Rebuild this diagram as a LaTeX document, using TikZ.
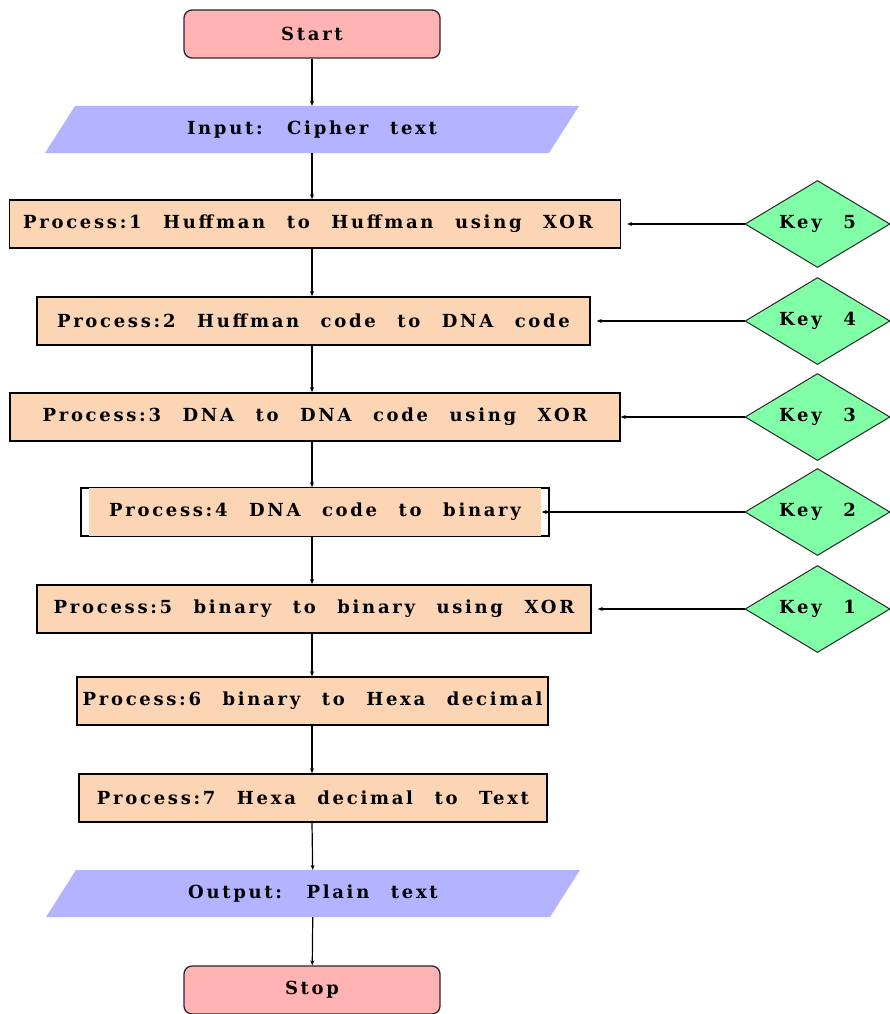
\documentclass[tikz,border=0pt]{standalone}
\usepackage{fontspec}
\setmainfont{DejaVu Serif}
\newfontfamily\spaced[LetterSpace=15,WordSpace=2.4]{DejaVu Serif}
\usetikzlibrary{shapes.geometric,arrows.meta,calc}
\definecolor{peach}{RGB}{252,213,181}
\definecolor{pinkfill}{RGB}{255,179,179}
\definecolor{lav}{RGB}{179,179,255}
\definecolor{keygreen}{RGB}{128,255,166}
\definecolor{edge}{RGB}{40,40,40}
\begin{document}
\begin{tikzpicture}[x=1pt,y=-1pt,
  every node/.style={font=\fontsize{18}{21}\selectfont\spaced\bfseries},
  term/.style={draw=edge, line width=1.3pt, fill=pinkfill, rounded corners=8pt,
    minimum width=256pt, minimum height=48pt, inner sep=0pt},
  io/.style={minimum width=534pt, minimum height=47pt, inner sep=0pt,
    path picture={\fill[lav] (path picture bounding box.south west)
      -- ($(path picture bounding box.north west)+(30,0)$)
      -- (path picture bounding box.north east)
      -- ($(path picture bounding box.south east)+(-30,0)$) -- cycle;}},
  proc/.style={draw=black, line width=1.5pt, fill=peach, minimum height=48pt, inner sep=0pt},
  key/.style={diamond, aspect=1.67, draw=edge, line width=1pt, fill=keygreen, minimum width=145pt,
    minimum height=87pt, inner sep=0pt},
  arr/.style={-{Stealth[length=5pt,width=4pt]}, line width=1.2pt, black}
]
\useasboundingbox (0,0) rectangle (890,1014);

\node[term] (start) at (312,34) {Start};
\node[io] (in) at (312,129.5) {Input: Cipher text};
\node[proc, minimum width=611pt] (p1) at (315,224) {\hspace*{-14pt}Process:1 Huffman to Huffman using XOR};
\node[proc, minimum width=553pt] (p2) at (313.5,321) {Process:2 Huffman code to DNA code};
\node[proc, minimum width=610pt] (p3) at (315,417) {Process:3 DNA to DNA code using XOR};
\node[proc, fill=white, minimum width=468pt] (p4) at (315,512) {};
\fill[peach] ($(p4.south west)+(9,-1)$) rectangle ($(p4.north east)+(-9,1)$);
\node at (p4) {Process:4 DNA code to binary};
\node[proc, minimum width=554pt] (p5) at (314,609) {Process:5 binary to binary using XOR};
\node[proc, minimum width=471pt] (p6) at (312.5,701) {Process:6 binary to Hexa decimal};
\node[proc, minimum width=468pt] (p7) at (313,798) {Process:7 Hexa decimal to Text};
\node[io] (out) at (313,893.5) {Output: Plain text};
\node[term] (stop) at (312,990) {Stop};

\node[key] (k5) at (817.5,224) {Key 5};
\node[key] (k4) at (817.5,321) {Key 4};
\node[key] (k3) at (817.5,417) {Key 3};
\node[key] (k2) at (817.5,512) {Key 2};
\node[key] (k1) at (817.5,609) {Key 1};

\draw[arr] (start) -- (in);
\draw[arr] (in) -- (in |- p1.north);
\draw[arr] (p1.south -| in) -- (in |- p2.north);
\draw[arr] (p2.south -| in) -- (in |- p3.north);
\draw[arr] (p3.south -| in) -- (in |- p4.north);
\draw[arr] (p4.south -| in) -- (in |- p5.north);
\draw[arr] (p5.south -| in) -- (in |- p6.north);
\draw[arr] (p6.south -| in) -- (in |- p7.north);
\draw[arr] (p7.south -| in) -- (out);
\draw[arr] (out) -- (stop);

\draw[arr, shorten >=6pt] (k5) -- (p1);
\draw[arr, shorten >=6pt] (k4) -- (p2);
\draw[arr] (k3) -- (p3);
\draw[arr, shorten >=-8pt] (k2) -- (p4);
\draw[arr, shorten >=6pt] (k1) -- (p5);
\end{tikzpicture}
\end{document}
